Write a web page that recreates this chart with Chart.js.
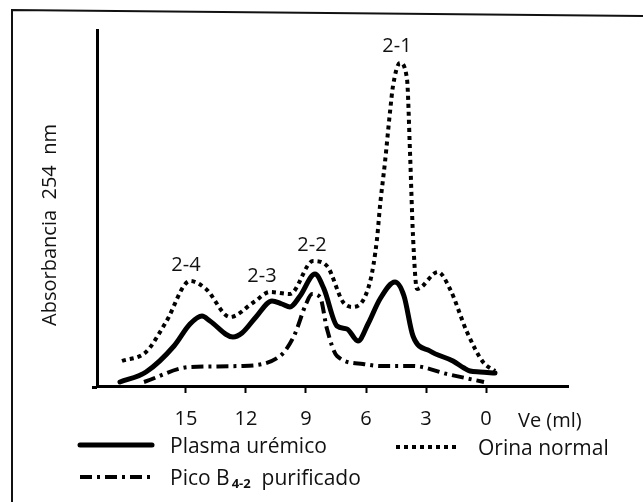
<!DOCTYPE html>
<html>
<head>
<meta charset="utf-8">
<script src="https://cdn.jsdelivr.net/npm/chart.js@4/dist/chart.umd.min.js"></script>
<style>
  html, body { margin: 0; padding: 0; background: #fff; }
  #wrap { position: relative; width: 643px; height: 502px; }
  canvas { display: block; }
</style>
</head>
<body>
<div id="wrap"><canvas id="c" width="643" height="502"></canvas></div>
<script>
// ---- Data (Ve in ml, absorbance in arbitrary units) ----
const plasmaVe  = [18.3, 17.0, 15.6, 14.8, 14.2, 13.8, 12.65, 12.2, 11.5, 10.7, 10.2, 9.8, 9.3, 8.55, 8.1, 7.45, 6.95, 6.4, 5.9, 5.3, 4.55, 4.1, 3.65, 2.8, 1.65, 1.1, 0.8, 0.3, -0.45];
const plasmaAbs = [4, 14, 40, 62, 70, 65, 49, 53, 69, 85, 82, 79, 90, 112, 97, 60, 57, 45, 62, 87, 104, 90, 50, 35, 25, 18, 15, 14, 13];

const orinaVe  = [18.2, 17.0, 16.0, 14.8, 14.0, 12.8, 11.6, 10.8, 9.8, 8.65, 7.95, 7.15, 6.65, 5.8, 5.45, 5.3, 5.05, 4.8, 4.65, 4.3, 3.95, 3.8, 3.65, 3.45, 2.4, 1.8, 0.95, 0.15, -0.45];
const orinaAbs = [25, 34, 64, 105, 97, 69, 84, 94, 92, 125, 120, 84, 79, 104, 147, 180, 224, 274, 300, 323, 307, 234, 150, 97, 114, 97, 54, 24, 15];

const picoVe  = [17.1, 14.8, 12.3, 10.3, 9.6, 9.0, 8.7, 8.3, 7.95, 7.45, 6.15, 5.3, 3.65, 1.95, 0.1];
const picoAbs = [4, 19, 20, 30, 50, 82, 92, 89, 57, 30, 22, 20, 20, 12, 4];

const xTickValues = [15, 12, 9, 6, 3, 0];
const peakLabels = ['2-1', '2-2', '2-3', '2-4'];
const peakVe     = [4.45, 8.7, 11.2, 15.0];
const peakAbs    = [334, 135, 104, 115];

const seriesNames = ['Plasma urémico', 'Orina normal', 'Pico B'];
const yTitle = 'Absorbancia  254  nm';
const xTitle = 'Ve (ml)';

const FONT = '"Open Sans", "DejaVu Sans", sans-serif';

function pts(xs, ys) { return xs.map((x, i) => ({ x: x, y: ys[i] })); }

const extras = {
  id: 'extras',
  afterDraw(chart) {
    const ctx = chart.ctx;
    const xs = chart.scales.x, ys = chart.scales.y;
    ctx.save();
    // outer frame (scanned figure border)
    ctx.strokeStyle = '#111';
    ctx.lineWidth = 2;
    ctx.beginPath();
    ctx.moveTo(650, 16); ctx.lineTo(12, 10); ctx.lineTo(12, 560);
    ctx.stroke();

    // short extension of x axis to the left of the y axis
    ctx.strokeStyle = '#000';
    ctx.lineWidth = 3;
    ctx.beginPath();
    ctx.moveTo(92, chart.chartArea.bottom + 1.5);
    ctx.lineTo(chart.chartArea.left, chart.chartArea.bottom + 1.5);
    ctx.stroke();

    ctx.fillStyle = '#111';
    // peak labels
    ctx.font = '20px ' + FONT;
    ctx.textAlign = 'center';
    ctx.textBaseline = 'alphabetic';
    peakLabels.forEach((t, i) => {
      ctx.fillText(t, xs.getPixelForValue(peakVe[i]), ys.getPixelForValue(peakAbs[i]));
    });

    // x axis title
    ctx.textAlign = 'left';
    ctx.textBaseline = 'alphabetic';
    ctx.font = '20px ' + FONT;
    ctx.fillText(xTitle, xs.getPixelForValue(0) + 32, 427);

    // y title
    ctx.save();
    ctx.translate(56, 225);
    ctx.rotate(-Math.PI / 2);
    ctx.textAlign = 'center';
    ctx.textBaseline = 'alphabetic';
    ctx.font = '20px ' + FONT;
    ctx.fillText(yTitle, 0, 0);
    ctx.restore();

    // legend
    const ds = chart.data.datasets;
    const items = [
      { d: ds[0], x: 80, y: 445, len: 72, text: seriesNames[0] },
      { d: ds[1], x: 396, y: 447, len: 64, text: seriesNames[1] },
      { d: ds[2], x: 80, y: 477, len: 72, text: seriesNames[2], sub: '4-2', after: '  purificado' }
    ];
    items.forEach(it => {
      ctx.save();
      ctx.strokeStyle = it.d.borderColor;
      ctx.lineWidth = it.d.borderWidth;
      ctx.setLineDash(it.d.borderDash || []);
      ctx.lineCap = it.d.borderCapStyle || 'butt';
      ctx.beginPath();
      ctx.moveTo(it.x, it.y);
      ctx.lineTo(it.x + it.len, it.y);
      ctx.stroke();
      ctx.restore();
      ctx.font = '21px ' + FONT;
      ctx.textAlign = 'left';
      ctx.textBaseline = 'alphabetic';
      let tx = it.x + it.len + 18;
      const by = it.y + 8;
      ctx.fillText(it.text, tx, by);
      if (it.sub) {
        tx += ctx.measureText(it.text).width + 2;
        ctx.font = 'bold 13px ' + FONT;
        ctx.fillText(it.sub, tx, by + 3);
        tx += ctx.measureText(it.sub).width;
        ctx.font = '21px ' + FONT;
        ctx.fillText(it.after, tx, by);
      }
    });
    ctx.restore();
  }
};

new Chart(document.getElementById('c'), {
  type: 'line',
  data: {
    datasets: [
      { label: seriesNames[0], data: pts(plasmaVe, plasmaAbs), borderColor: '#000', borderWidth: 5, pointRadius: 0, cubicInterpolationMode: 'monotone', borderCapStyle: 'round', fill: false },
      { label: seriesNames[1], data: pts(orinaVe, orinaAbs), borderColor: '#000', borderWidth: 4, borderDash: [4, 4], pointRadius: 0, cubicInterpolationMode: 'monotone', fill: false },
      { label: seriesNames[2], data: pts(picoVe, picoAbs), borderColor: '#000', borderWidth: 4, borderDash: [12, 5, 3, 5], pointRadius: 0, cubicInterpolationMode: 'monotone', fill: false }
    ]
  },
  options: {
    responsive: false,
    animation: false,
    events: [],
    layout: { padding: { left: 97, right: 75, top: 30, bottom: 76 } },
    plugins: { legend: { display: false }, tooltip: { enabled: false } },
    scales: {
      x: {
        type: 'linear',
        reverse: true,
        min: -4.1,
        max: 19.45,
        afterBuildTicks: s => { s.ticks = xTickValues.map(v => ({ value: v })); },
        afterFit: s => { s.height = 40; },
        grid: { display: true, drawOnChartArea: false, drawTicks: true, tickLength: 7, tickWidth: 2, tickColor: '#000' },
        border: { display: true, color: '#000', width: 3 },
        ticks: { color: '#111', font: { family: FONT, size: 20 }, padding: 14, maxRotation: 0, autoSkip: false }
      },
      y: {
        type: 'linear',
        min: 0,
        max: 356,
        afterFit: s => { s.width = 0; },
        grid: { display: false, drawTicks: false },
        border: { display: true, color: '#000', width: 3 },
        ticks: { display: false }
      }
    }
  },
  plugins: [extras]
});
</script>
</body>
</html>
